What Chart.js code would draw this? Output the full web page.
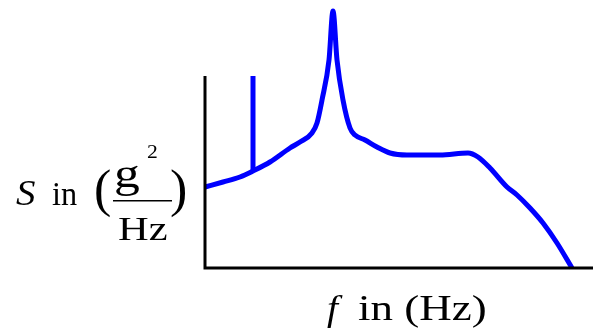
<!DOCTYPE html>
<html>
<head>
<meta charset="utf-8">
<script src="https://cdn.jsdelivr.net/npm/chart.js@4"></script>
<style>
  html, body { margin: 0; padding: 0; background: #fff; }
  #wrap { width: 593px; height: 330px; position: relative; }
</style>
</head>
<body>
<div id="wrap"><canvas id="psd"></canvas></div>
<script>
'use strict';

// PSD curve, frequency vs level (arbitrary units, no ticks shown)
const freq = [0, 18, 35, 48, 65, 85, 95, 107, 112, 117, 124, 128, 132, 138, 145, 150, 160, 172, 185, 202, 235, 263, 273, 285, 302, 312, 325, 338, 352, 367];
const level = [81, 86, 91, 97, 106, 120, 126, 135, 145, 168, 208, 257, 208, 168, 140, 133, 128, 121, 115, 113, 113, 115, 111, 100, 81, 73, 60, 45, 25, 0];

// sine tone spike
const spikeFreq = [48, 48];
const spikeLevel = [97, 192];

const axisTop = 192;
const xMax = 388, yMax = 260;

const blue = '#0000ff';

const toPts = (xs, ys) => xs.map((x, i) => ({ x, y: ys[i] }));

// axes: just two black lines, y axis shorter than the plot
const axesPlugin = {
  id: 'axes',
  afterDatasetsDraw(c) {
    const ctx = c.ctx, sx = c.scales.x, sy = c.scales.y;
    const x0 = sx.getPixelForValue(0), y0 = sy.getPixelForValue(0);
    ctx.save();
    ctx.strokeStyle = '#000';
    ctx.lineWidth = 3;
    ctx.beginPath();
    ctx.moveTo(x0, sy.getPixelForValue(axisTop));
    ctx.lineTo(x0, y0 + 1.5);
    ctx.moveTo(x0 - 1.5, y0);
    ctx.lineTo(sx.getPixelForValue(xMax), y0);
    ctx.stroke();
    ctx.restore();
  }
};

const serif = '"Liberation Serif", serif';

// text, optionally stretched sideways
function txt(ctx, str, x, y, font, sx = 1) {
  ctx.save();
  ctx.translate(x, y);
  ctx.scale(sx, 1);
  ctx.font = font;
  ctx.fillText(str, 0, 0);
  ctx.restore();
}

// axis labels in serif, y label as a fraction
const labelsPlugin = {
  id: 'labels',
  afterDraw(c) {
    const ctx = c.ctx;
    ctx.save();
    ctx.fillStyle = '#000';
    ctx.textBaseline = 'alphabetic';

    // S in (g^2 / Hz)
    txt(ctx, 'S', 16, 205, 'italic 36px ' + serif, 1.08);
    txt(ctx, 'in', 52, 205, '34px ' + serif, 0.95);
    txt(ctx, '(', 94, 206, '52px ' + serif);
    txt(ctx, ')', 170, 206, '52px ' + serif);
    txt(ctx, 'g', 114, 187, '43px ' + serif, 1.2);
    txt(ctx, '2', 147, 158, '18px ' + serif, 1.2);
    txt(ctx, 'Hz', 118, 240, '34px ' + serif, 1.25);
    ctx.fillRect(113, 200, 59, 1.5);

    // f in (Hz)
    txt(ctx, 'f', 327, 320, 'italic 36px ' + serif, 1.1);
    txt(ctx, 'in (Hz)', 358, 320, '36px ' + serif, 1.25);
    ctx.restore();
  }
};

function draw() {
  new Chart(document.getElementById('psd'), {
    type: 'line',
    data: {
      datasets: [
        {
          data: toPts(freq, level),
          borderColor: blue,
          borderWidth: 5,
          pointRadius: 0,
          cubicInterpolationMode: 'monotone',
          clip: false
        },
        {
          data: toPts(spikeFreq, spikeLevel),
          borderColor: blue,
          borderWidth: 5,
          pointRadius: 0,
          borderCapStyle: 'butt',
          tension: 0,
          clip: false
        }
      ]
    },
    options: {
      responsive: true,
      maintainAspectRatio: false,
      animation: false,
      events: [],
      layout: { padding: { left: 205, right: 0, top: 8, bottom: 62 } },
      plugins: { legend: { display: false }, tooltip: { enabled: false } },
      scales: {
        x: { type: 'linear', min: 0, max: xMax, display: false },
        y: { type: 'linear', min: 0, max: yMax, display: false }
      }
    },
    plugins: [axesPlugin, labelsPlugin]
  });
}

// make sure the serif faces are ready before the canvas uses them
Promise.all([
  document.fonts.load('34px "Liberation Serif"'),
  document.fonts.load('italic 34px "Liberation Serif"')
]).then(draw, draw);
</script>
</body>
</html>
